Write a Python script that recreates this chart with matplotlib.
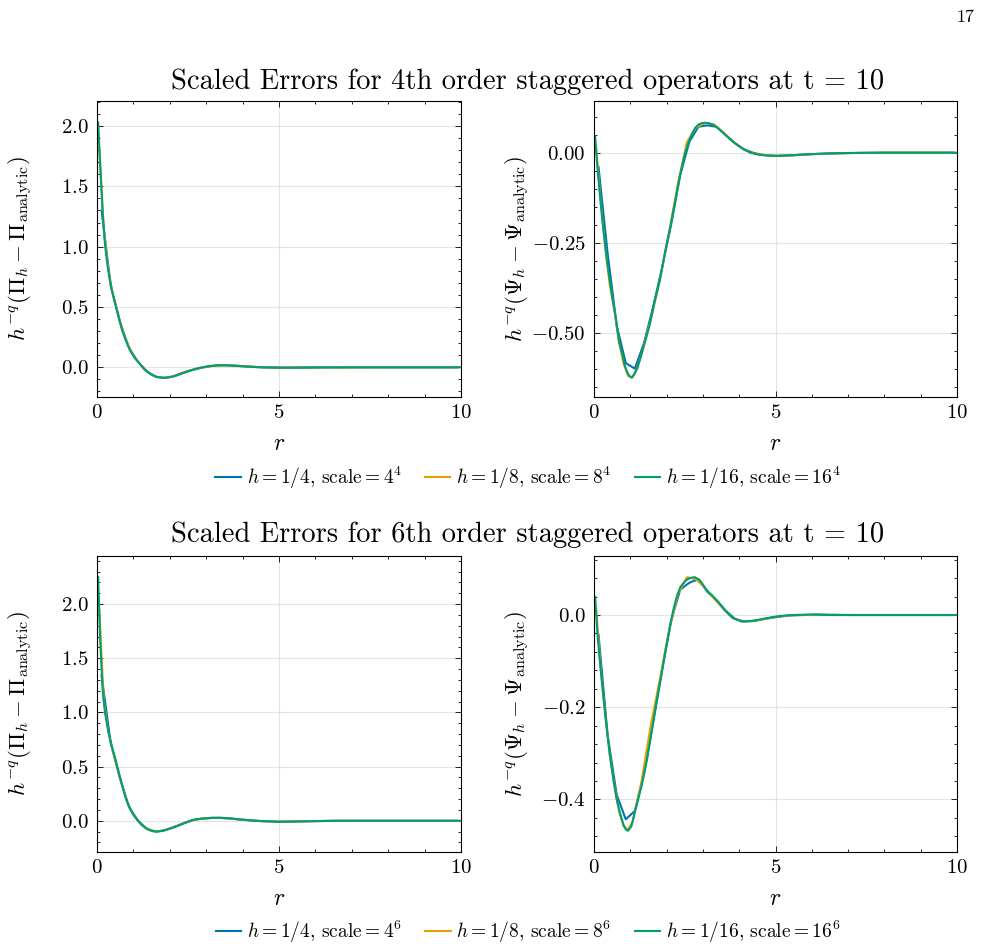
import matplotlib
matplotlib.use("Agg")
import matplotlib.pyplot as plt
from matplotlib.ticker import AutoMinorLocator, FixedLocator, FuncFormatter

plt.rcParams.update({
    "font.family": "serif",
    "font.serif": ["cmr10"],
    "mathtext.fontset": "cm",
    "axes.formatter.use_mathtext": True,
    "axes.unicode_minus": True,
})

# ---------------- data ----------------
colors = ["#0072B2", "#E69F00", "#009E73"]
labels4 = [r"$h=1/4$, scale$=4^4$", r"$h=1/8$, scale$=8^4$", r"$h=1/16$, scale$=16^4$"]
labels6 = [r"$h=1/4$, scale$=4^6$", r"$h=1/8$, scale$=8^6$", r"$h=1/16$, scale$=16^6$"]
titles = ["Scaled Errors for 4th order staggered operators at t = 10",
          "Scaled Errors for 6th order staggered operators at t = 10"]

# Panel A: Pi error, 4th order
pi4_h4_r = [0.125, 0.375, 0.625, 0.875, 1.125, 1.375, 1.625, 1.875, 2.125, 2.375, 2.625, 2.875,
            3.125, 3.375, 3.625, 3.875, 4.375, 5.0, 6.0, 8.0, 9.875]
pi4_h4_v = [1.30, 0.68, 0.38, 0.165, 0.045, -0.035, -0.08, -0.087, -0.074, -0.046, -0.022, -0.003,
            0.01, 0.017, 0.016, 0.012, 0.002, -0.003, -0.001, 0.0, 0.0]
pi4_h8_r = [0.0625, 0.1875, 0.3125, 0.4375, 0.5625, 0.6875, 0.8125, 0.9375, 1.0625, 1.1875, 1.3125,
            1.5625, 1.8125, 2.0625, 2.3125, 2.5625, 2.8125, 3.1875, 3.5625, 3.9375, 4.5625, 5.0625,
            6.0625, 8.0625, 9.9375]
pi4_h8_v = [1.82, 1.14, 0.81, 0.60, 0.46, 0.32, 0.215, 0.13, 0.07, 0.025, -0.02,
            -0.072, -0.088, -0.078, -0.048, -0.026, -0.005, 0.013, 0.017, 0.011, 0.0, -0.003,
            -0.001, 0.0, 0.0]
pi4_h16_r = [0.03125, 0.09375, 0.15625, 0.21875, 0.28125, 0.34375, 0.40625, 0.5, 0.59375, 0.6875,
             0.78125, 0.90625, 1.03125, 1.1875, 1.3125, 1.46875, 1.625, 1.8125, 2.0, 2.1875, 2.375,
             2.59375, 2.8125, 3.0625, 3.3125, 3.5625, 3.875, 4.1875, 4.5, 5.0, 5.5, 6.0, 7.0, 8.5,
             9.96875]
pi4_h16_v = [2.03, 1.64, 1.28, 1.02, 0.86, 0.74, 0.64, 0.53, 0.42, 0.31,
             0.23, 0.14, 0.08, 0.025, -0.02, -0.057, -0.078, -0.088, -0.082, -0.066, -0.045,
             -0.023, -0.005, 0.009, 0.017, 0.017, 0.011, 0.005, 0.0, -0.003, -0.003, -0.001, 0.0, 0.0,
             0.0]

# Panel B: Psi error, 4th order
psi4_h4_r = [0.125, 0.375, 0.625, 0.875, 1.125, 1.375, 1.625, 1.875, 2.125, 2.375, 2.625, 2.875,
             3.125, 3.375, 3.625, 3.875, 4.125, 4.375, 4.625, 5.0, 5.5, 6.0, 6.5, 7.0, 8.0, 9.875]
psi4_h4_v = [-0.04, -0.28, -0.48, -0.585, -0.60, -0.53, -0.43, -0.32, -0.20, -0.062, 0.03, 0.072,
             0.076, 0.072, 0.05, 0.027, 0.01, 0.0, -0.006, -0.009, -0.007, -0.004, -0.002, -0.001,
             0.0, 0.0]
psi4_h8_r = [0.0625, 0.1875, 0.3125, 0.4375, 0.5625, 0.6875, 0.8125, 0.9375, 1.0625, 1.1875, 1.3125,
             1.4375, 1.5625, 1.8125, 2.0625, 2.3125, 2.5625, 2.8125, 3.0625, 3.3125, 3.5625, 3.8125,
             4.0625, 4.3125, 4.5625, 5.0625, 5.5625, 6.0625, 7.0625, 8.0625, 9.9375]
psi4_h8_v = [0.01, -0.14, -0.265, -0.37, -0.44, -0.525, -0.585, -0.62, -0.625, -0.60, -0.56,
             -0.51, -0.465, -0.355, -0.225, -0.085, 0.03, 0.07, 0.083, 0.078, 0.056, 0.032,
             0.014, 0.0, -0.005, -0.009, -0.007, -0.004, -0.001, 0.0, 0.0]
psi4_h16_r = [0.03125, 0.09375, 0.15625, 0.21875, 0.28125, 0.34375, 0.40625, 0.5, 0.59375, 0.6875,
              0.78125, 0.84375, 0.90625, 0.96875, 1.03125, 1.09375, 1.1875, 1.28125, 1.40625, 1.53125,
              1.65625, 1.8125, 1.96875, 2.09375, 2.21875, 2.375, 2.5, 2.59375, 2.6875, 2.78125,
              2.875, 2.96875, 3.0625, 3.15625, 3.28125, 3.4375, 3.59375, 3.75, 3.9375, 4.125,
              4.3125, 4.5, 4.75, 5.0, 5.5, 6.0, 6.5, 7.0, 8.0, 9.96875]
psi4_h16_v = [0.045, -0.04, -0.11, -0.175, -0.235, -0.29, -0.335, -0.40, -0.455, -0.525,
              -0.56, -0.59, -0.608, -0.62, -0.625, -0.618, -0.60, -0.57, -0.525, -0.48,
              -0.42, -0.355, -0.27, -0.21, -0.145, -0.06, -0.005, 0.025, 0.05, 0.068,
              0.078, 0.082, 0.083, 0.082, 0.078, 0.066, 0.052, 0.037, 0.022, 0.009,
              0.0, -0.005, -0.008, -0.009, -0.007, -0.004, -0.002, -0.001, 0.0, 0.0]

# Panel C: Pi error, 6th order
pi6_h4_r = [0.125, 0.375, 0.625, 0.875, 1.125, 1.375, 1.625, 1.875, 2.125, 2.375, 2.625, 2.875,
            3.125, 3.375, 3.625, 3.875, 4.375, 5.0, 5.625, 6.5, 8.0, 9.875]
pi6_h4_v = [1.34, 0.72, 0.40, 0.13, 0.0, -0.076, -0.10, -0.086, -0.058, -0.024, 0.006, 0.02,
            0.027, 0.027, 0.022, 0.013, 0.0, -0.009, -0.005, 0.0, 0.0, 0.0]
pi6_h8_r = [0.0625, 0.1875, 0.3125, 0.4375, 0.5625, 0.6875, 0.8125, 0.9375, 1.0625, 1.1875, 1.3125,
            1.5625, 1.8125, 2.0625, 2.3125, 2.5625, 2.8125, 3.1875, 3.5625, 3.9375, 4.4375, 5.0625,
            5.6875, 6.5625, 8.0625, 9.9375]
pi6_h8_v = [1.95, 1.10, 0.82, 0.64, 0.49, 0.33, 0.19, 0.09, 0.025, -0.025, -0.062,
            -0.098, -0.092, -0.064, -0.03, 0.0, 0.018, 0.027, 0.024, 0.012, -0.002, -0.009,
            -0.004, 0.0, 0.0, 0.0]
pi6_h16_r = [0.03125, 0.09375, 0.15625, 0.21875, 0.3125, 0.40625, 0.5, 0.59375, 0.6875, 0.78125,
             0.90625, 1.0, 1.09375, 1.21875, 1.375, 1.5, 1.65625, 1.8125, 2.0, 2.1875, 2.40625,
             2.65625, 2.90625, 3.1875, 3.40625, 3.6875, 3.96875, 4.25, 4.5, 5.0, 5.5, 6.0, 6.75,
             8.0, 9.96875]
pi6_h16_v = [2.25, 1.62, 1.20, 1.00, 0.82, 0.69, 0.575, 0.45, 0.33, 0.22,
             0.114, 0.055, 0.015, -0.035, -0.075, -0.094, -0.10, -0.092, -0.072, -0.05, -0.02,
             0.01, 0.021, 0.027, 0.028, 0.022, 0.011, 0.003, -0.003, -0.009, -0.006, -0.003, 0.0,
             0.0, 0.0]

# Panel D: Psi error, 6th order
psi6_h4_r = [0.125, 0.375, 0.625, 0.875, 1.125, 1.375, 1.625, 1.875, 2.125, 2.375, 2.625, 2.875,
             3.125, 3.375, 3.625, 3.875, 4.125, 4.375, 4.875, 5.375, 6.125, 7.0, 8.0, 9.875]
psi6_h4_v = [-0.043, -0.26, -0.39, -0.443, -0.425, -0.345, -0.235, -0.12, -0.012, 0.055, 0.07, 0.078,
             0.05, 0.032, 0.01, -0.008, -0.014, -0.013, -0.006, -0.001, 0.001, 0.0, 0.0, 0.0]
psi6_h8_r = [0.0625, 0.1875, 0.3125, 0.4375, 0.5625, 0.6875, 0.8125, 0.9375, 1.0625, 1.1875, 1.3125,
             1.4375, 1.5625, 1.8125, 2.0625, 2.3125, 2.5625, 2.8125, 3.0625, 3.3125, 3.5625, 3.8125,
             4.0625, 4.5625, 5.0625, 5.5625, 6.5625, 8.0625, 9.9375]
psi6_h8_v = [0.01, -0.12, -0.22, -0.305, -0.37, -0.425, -0.458, -0.465, -0.448, -0.405, -0.36,
             -0.30, -0.24, -0.14, -0.035, 0.045, 0.082, 0.078, 0.058, 0.035, 0.014, -0.006,
             -0.014, -0.011, -0.003, 0.0, 0.0, 0.0, 0.0]
psi6_h16_r = [0.03125, 0.09375, 0.15625, 0.25, 0.34375, 0.4375, 0.53125, 0.625, 0.71875, 0.8125,
              0.875, 0.9375, 1.03125, 1.15625, 1.3125, 1.46875, 1.59375, 1.71875, 1.84375, 1.96875,
              2.09375, 2.1875, 2.28125, 2.375, 2.46875, 2.5625, 2.6875, 2.78125, 2.90625, 3.0,
              3.125, 3.25, 3.40625, 3.59375, 3.8125, 4.0625, 4.375, 4.75, 5.125, 5.5, 6.0, 6.5,
              7.5, 8.5, 9.96875]
psi6_h16_v = [0.04, -0.04, -0.095, -0.17, -0.24, -0.305, -0.355, -0.40, -0.43, -0.455,
              -0.465, -0.468, -0.458, -0.418, -0.37, -0.31, -0.25, -0.19, -0.135, -0.078,
              -0.025, 0.012, 0.04, 0.06, 0.07, 0.077, 0.081, 0.082, 0.076, 0.066,
              0.052, 0.043, 0.03, 0.011, -0.006, -0.014, -0.013, -0.007, -0.002, 0.0, 0.001, 0.0,
              0.0, 0.0, 0.0]

panels = [
    dict(series=[(pi4_h4_r, pi4_h4_v), (pi4_h8_r, pi4_h8_v), (pi4_h16_r, pi4_h16_v)],
         ylabel=r"$h^{-q}(\mathbf{\Pi}_h - \mathbf{\Pi}_{\mathrm{analytic}})$",
         ylim=(-0.246, 2.207), yticks=[0.0, 0.5, 1.0, 1.5, 2.0], dec=1),
    dict(series=[(psi4_h4_r, psi4_h4_v), (psi4_h8_r, psi4_h8_v), (psi4_h16_r, psi4_h16_v)],
         ylabel=r"$h^{-q}(\mathbf{\Psi}_h - \mathbf{\Psi}_{\mathrm{analytic}})$",
         ylim=(-0.679, 0.1436), yticks=[-0.5, -0.25, 0.0], dec=2),
    dict(series=[(pi6_h4_r, pi6_h4_v), (pi6_h8_r, pi6_h8_v), (pi6_h16_r, pi6_h16_v)],
         ylabel=r"$h^{-q}(\mathbf{\Pi}_h - \mathbf{\Pi}_{\mathrm{analytic}})$",
         ylim=(-0.288, 2.444), yticks=[0.0, 0.5, 1.0, 1.5, 2.0], dec=1),
    dict(series=[(psi6_h4_r, psi6_h4_v), (psi6_h8_r, psi6_h8_v), (psi6_h16_r, psi6_h16_v)],
         ylabel=r"$h^{-q}(\mathbf{\Psi}_h - \mathbf{\Psi}_{\mathrm{analytic}})$",
         ylim=(-0.514, 0.128), yticks=[-0.4, -0.2, 0.0], dec=1),
]

# ---------------- figure ----------------
W, H = 981, 950
fig = plt.figure(figsize=(W / 100, H / 100), dpi=100)

def fx(px):
    return px / W

def fy(py):
    return 1 - py / H

def make_fmt(dec):
    def f(x, pos):
        s = f"{x:.{dec}f}"
        if s.startswith("-") and float(s) == 0:
            s = s[1:]
        return f"${s}$"
    return FuncFormatter(f)

boxes = [(97, 101, 461, 397), (594, 101, 957, 397), (97, 556, 461, 852), (594, 556, 957, 852)]
axes = []
for (x0, y0, x1, y1), p in zip(boxes, panels):
    ax = fig.add_axes([fx(x0), fy(y1), fx(x1 - x0), (y1 - y0) / H])
    for (r, v), c in zip(p["series"], colors):
        ax.plot(r, v, color=c, lw=1.5)
    ax.set_xlim(0, 10)
    ax.set_ylim(*p["ylim"])
    ax.xaxis.set_major_locator(FixedLocator([0, 5, 10]))
    ax.xaxis.set_major_formatter(make_fmt(0))
    ax.yaxis.set_major_locator(FixedLocator(p["yticks"]))
    ax.yaxis.set_major_formatter(make_fmt(p["dec"]))
    ax.xaxis.set_minor_locator(AutoMinorLocator(5))
    ax.yaxis.set_minor_locator(AutoMinorLocator(5))
    ax.tick_params(which="both", direction="in", top=True, right=True, labelsize=15, width=0.6)
    ax.tick_params(which="major", length=4)
    ax.tick_params(which="minor", length=2)
    ax.tick_params(axis="x", pad=5)
    ax.tick_params(axis="y", pad=6)
    ax.grid(True, which="major", color="#d9d9d9", lw=0.8, alpha=0.7)
    for s in ax.spines.values():
        s.set_linewidth(0.8)
    ax.set_xlabel(r"$r$", fontsize=17, labelpad=8)
    ax.set_ylabel(p["ylabel"], fontsize=16.5)
    ax.yaxis.set_label_coords(-0.17, 0.5)
    axes.append(ax)

fig.text(fx(528), fy(82), titles[0], ha="center", va="center", fontsize=20.5)
fig.text(fx(528), fy(535), titles[1], ha="center", va="center", fontsize=20.5)
fig.text(fx(965), fy(17), "17", ha="center", va="center", fontsize=13)

for row, labels, ycen in [(0, labels4, 478), (2, labels6, 932)]:
    handles = axes[row].get_lines()
    fig.legend(handles, labels, loc="center", bbox_to_anchor=(fx(528), fy(ycen)), ncol=3,
               frameon=False, fontsize=14, handlelength=1.3, handletextpad=0.3,
               columnspacing=1.2, borderaxespad=0)

fig.savefig("out.png", dpi=100)
